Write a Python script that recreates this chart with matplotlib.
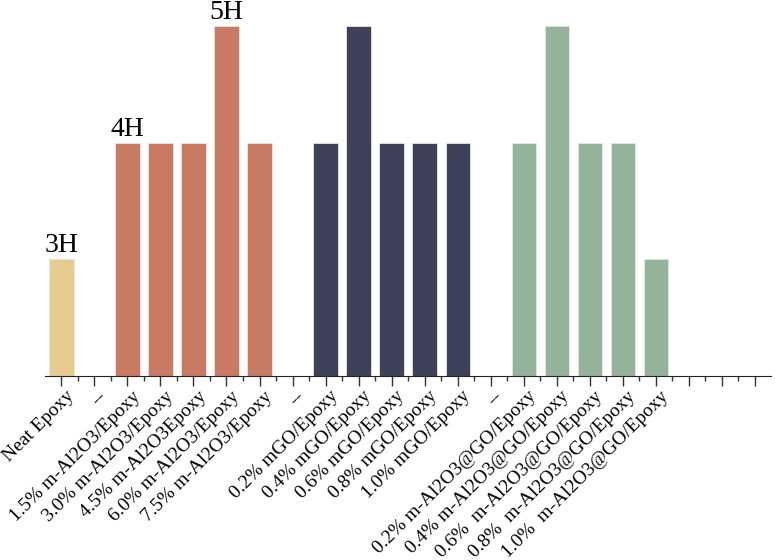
import numpy as np
import matplotlib
matplotlib.use("Agg")
import matplotlib.pyplot as plt
import matplotlib.transforms as mtransforms

plt.rcParams['font.family'] = ['Liberation Serif', 'DejaVu Serif']

# categories along the x axis ("--" are spacers, trailing "" are empty slots)
labels = ['Neat Epoxy', '--',
          '1.5% m-Al2O3/Epoxy', '3.0% m-Al2O3/Epoxy', '4.5% m-Al2O3Epoxy',
          '6.0% m-Al2O3/Epoxy', '7.5% m-Al2O3/Epoxy', '--',
          '0.2% mGO/Epoxy', '0.4% mGO/Epoxy', '0.6% mGO/Epoxy',
          '0.8% mGO/Epoxy', '1.0% mGO/Epoxy', '--',
          '0.2% m-Al2O3@GO/Epoxy', '0.4% m-Al2O3@GO/Epoxy', '0.6%  m-Al2O3@GO/Epoxy',
          '0.8%  m-Al2O3@GO/Epoxy', '1.0%  m-Al2O3@GO/Epoxy',
          '', '', '']

# pencil hardness (H grade), nan = no bar
hardness = [3, np.nan,
            4, 4, 4, 5, 4, np.nan,
            4, 5, 4, 4, 4, np.nan,
            4, 5, 4, 4, 3,
            np.nan, np.nan, np.nan]

groups = ['neat', None,
          'al', 'al', 'al', 'al', 'al', None,
          'go', 'go', 'go', 'go', 'go', None,
          'hyb', 'hyb', 'hyb', 'hyb', 'hyb',
          None, None, None]
group_colors = {'neat': '#E8CB8F', 'al': '#C97A62', 'go': '#3F415B', 'hyb': '#93B39A', None: 'none'}

# which bars get an "nH" label
annot = {0: '3H', 2: '4H', 5: '5H'}

fig = plt.figure(figsize=(7.75, 5.6), dpi=100)
ax = fig.add_axes([0.058, 0.3286, 0.937, 0.667])

x = np.arange(len(labels))
colors = [group_colors[g] for g in groups]
ax.bar(x, np.nan_to_num(hardness), width=0.73, color=colors,
       edgecolor='#e6e6e6', linewidth=0.6)

for i, txt in annot.items():
    ax.text(x[i], hardness[i] + 0.06, txt, ha='center', va='baseline', fontsize=20)

ax.set_xlim(-0.5, len(labels) - 0.5)
ax.set_ylim(2, 5.2)
ax.set_xticks(x)
ax.set_xticks(x[:-1] + 0.5, minor=True)
ax.set_xticklabels(labels, rotation=45, ha='right', rotation_mode='anchor', fontsize=14)
ax.tick_params(axis='x', which='major', length=7.5, width=1, direction='out', color='#333333', pad=1)
ax.tick_params(axis='x', which='minor', length=3.5, width=1, direction='out', color='#333333')
ax.set_yticks([])
for s in ['left', 'right', 'top']:
    ax.spines[s].set_visible(False)
ax.spines['bottom'].set_color('#222222')

# nudge the rotated labels a little to the right
shift = mtransforms.ScaledTranslation(4 / 100, 0, fig.dpi_scale_trans)
for lab in ax.get_xticklabels():
    lab.set_transform(lab.get_transform() + shift)

fig.savefig('out.png', dpi=100)
